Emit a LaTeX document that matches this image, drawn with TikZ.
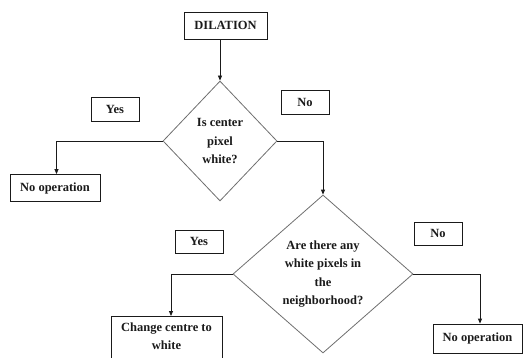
\documentclass[tikz,border=0pt]{standalone}
\usepackage{fontspec}
\setmainfont{Liberation Serif}
\definecolor{flowgray}{HTML}{6E6E6E}
\definecolor{flowink}{HTML}{1A1A1A}
\usetikzlibrary{arrows.meta, positioning, shapes.geometric}

\begin{document}
\begin{tikzpicture}[x=1pt, y=-1pt,
    every node/.style={font=\bfseries\fontsize{12.5}{18.5}\selectfont, text=flowink},
    stepbox/.style={draw=flowink, line width=0.8pt, align=center, inner sep=0pt},
    decision/.style={diamond, draw=flowgray, line width=0.8pt, align=center, inner sep=0pt},
    arr/.style={-{Triangle[length=5pt, width=4pt]}, line width=0.8pt, flowink}]
        \clip (0,0) rectangle (532,358);
        % Start
        \node[stepbox, minimum width=83, minimum height=27] (dil) at (225.5,25.5) {DILATION};
        % First test
        \node[decision, minimum width=114, minimum height=120] (q1) at (220,141)
          {Is center\\pixel\\white?};
        \node[stepbox, minimum width=48, minimum height=24] (yes1) at (115,109) {Yes};
        \node[stepbox, minimum width=48, minimum height=24] (no1) at (305,102) {No};
        \node[stepbox, minimum width=90, minimum height=27] (nop1) at (55,188) {No operation};
        % Second test
        \node[decision, minimum width=180, minimum height=158] (q2) at (323,274)
          {Are there any\\white pixels in\\the\\neighborhood?};
        \node[stepbox, minimum width=48, minimum height=23] (yes2) at (199,241.5) {Yes};
        \node[stepbox, minimum width=48, minimum height=23] (no2) at (438,233.5) {No};
        \node[stepbox, minimum width=111, inner ysep=6pt, text depth=20pt, anchor=north]
          (chg) at (166.5,316) {Change centre to\\white};
        \node[stepbox, minimum width=89, minimum height=29] (nop2) at (477.5,338.5) {No operation};
        % Connectors
        \draw[arr] (q1.north |- dil.south) -- (q1.north);
        \draw[arr] (q1.west) -| ([xshift=1.5]nop1.north);
        \draw[arr] (q1.east) -| (q2.north);
        \draw[arr] (q2.west) -| ([xshift=4.5]chg.north);
        \draw[arr] (q2.east) -| ([xshift=2.5]nop2.north);
\end{tikzpicture}
\end{document}
